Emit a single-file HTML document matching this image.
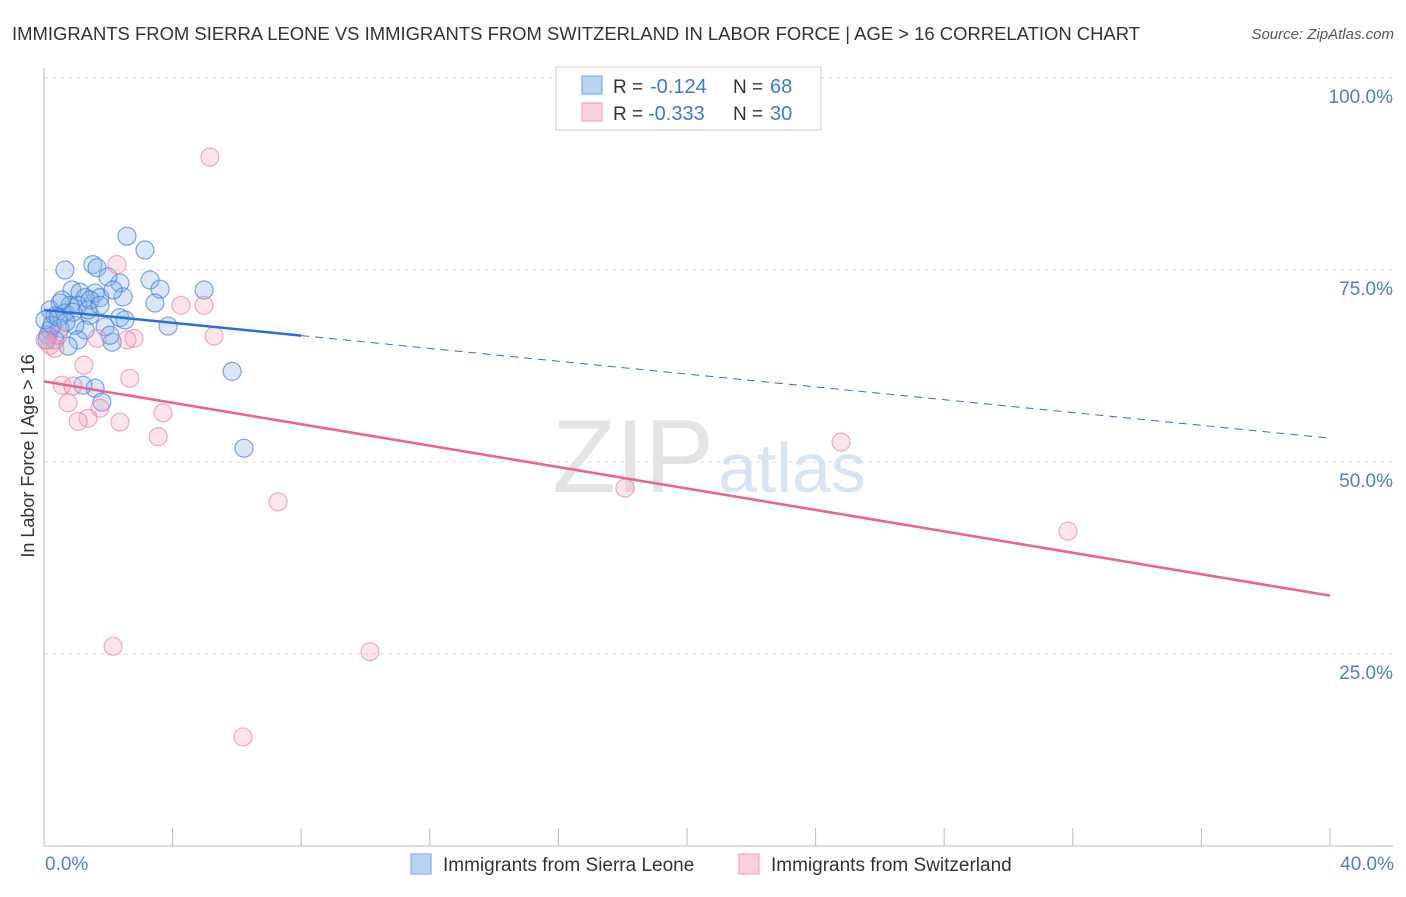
<!DOCTYPE html>
<html><head><meta charset="utf-8"><style>
body{margin:0;background:#fff;font-family:"Liberation Sans",sans-serif;}
svg text{font-family:"Liberation Sans",sans-serif;}
</style></head><body>
<svg width="1406" height="892" xmlns="http://www.w3.org/2000/svg">
<text x="12" y="40" font-size="18" fill="#333" textLength="1128" lengthAdjust="spacingAndGlyphs">IMMIGRANTS FROM SIERRA LEONE VS IMMIGRANTS FROM SWITZERLAND IN LABOR FORCE | AGE &gt; 16 CORRELATION CHART</text>
<text x="1394" y="39" font-size="15" fill="#555" font-style="italic" text-anchor="end">Source: ZipAtlas.com</text>
<text x="714" y="492" font-size="104" fill="#e4e4e4" text-anchor="end" font-family="Liberation Serif">ZIP</text>
<text x="718" y="492" font-size="70" fill="#d8e4f2">atlas</text>
<g id="grid"></g>
<g id="axes"></g>
<g id="pts"></g>
<g id="lines"></g>
<text transform="translate(34,456) rotate(-90)" font-size="18" fill="#333" text-anchor="middle">In Labor Force | Age &gt; 16</text>
<text x="45" y="870" font-size="19" fill="#4a7fd4">0.0%</text>
<text x="1394" y="870" font-size="19" fill="#4a7fd4" text-anchor="end">40.0%</text>
<g>
<rect x="556" y="67" width="265" height="63" fill="#fff" stroke="#ccc"/>
<rect x="582" y="76" width="20" height="18" fill="#b9d3f5" stroke="#6fa0e0"/>
<rect x="582" y="103" width="20" height="18" fill="#fbd0dc" stroke="#ee9ab2"/>
<text x="613" y="93" font-size="19" fill="#333">R =</text>
<text x="650" y="93" font-size="20" fill="#3b78d8">-0.124</text>
<text x="733" y="93" font-size="19" fill="#333">N =</text>
<text x="770" y="93" font-size="20" fill="#3b78d8">68</text>
<text x="613" y="120" font-size="19" fill="#333">R =</text>
<text x="648" y="120" font-size="20" fill="#3b78d8">-0.333</text>
<text x="733" y="120" font-size="19" fill="#333">N =</text>
<text x="770" y="120" font-size="20" fill="#3b78d8">30</text>
</g>
<g>
<rect x="411" y="854" width="20" height="20" fill="#b9d3f5" stroke="#6fa0e0"/>
<text x="443" y="871" font-size="19" fill="#333">Immigrants from Sierra Leone</text>
<rect x="739" y="854" width="20" height="20" fill="#fbd0dc" stroke="#ee9ab2"/>
<text x="771" y="871" font-size="19" fill="#333">Immigrants from Switzerland</text>
</g>
</svg>
<script>
const yTicks=[25,50,75,100];
const yTickLabels=["25.0%","50.0%","75.0%","100.0%"];
const xTicks=[0,4,8,12,16,20,24,28,32,36,40];
const blueX=[2.58,3.14,0.65,1.52,1.65,2.36,1.99,3.30,3.61,4.98,3.45,2.46,0.87,1.12,1.59,1.28,0.50,0.81,0.19,0.34,0.65,1.43,1.74,2.15,2.36,2.52,3.86,1.90,1.28,0.96,0.50,0.19,0.12,0.34,1.06,2.12,0.75,5.85,1.59,1.21,1.80,6.22,0.56,1.06,1.43,0.03,0.09,0.25,0.90,1.37,1.74,2.05,0.44,0.68];
const blueY=[79.4,77.6,75.0,75.7,75.3,73.3,74.1,73.7,72.5,72.4,70.7,71.5,72.4,72.1,72.0,71.4,70.7,70.4,69.8,69.0,69.4,69.1,71.4,72.4,68.8,68.5,67.7,67.6,67.2,67.8,67.4,67.2,66.5,65.9,65.9,65.6,65.1,61.8,59.6,60.0,57.8,51.8,71.1,70.4,71.1,68.5,65.9,67.8,69.5,69.8,70.4,66.5,68.8,68.2];
const pinkX=[5.16,2.27,4.26,4.98,5.29,2.80,2.58,1.65,1.24,2.67,0.56,0.90,0.75,1.74,3.70,1.37,1.06,2.36,3.55,7.28,24.79,18.07,31.85,2.15,10.14,6.19,0.19,0.34,0.44,0.03];
const pinkY=[89.7,75.7,70.4,70.4,66.4,66.1,65.9,66.1,62.6,60.9,60.0,59.9,57.7,57.0,56.4,55.7,55.3,55.2,53.3,44.8,52.6,46.6,41.0,26.0,25.3,14.2,65.2,64.8,66.5,65.9];
const blueTrend=[69.8,53.1];
const pinkTrend=[60.5,32.6];
const blueSolidEnd=8;
const X=v=>44+v/40*1286, Y=v=>846-v/100*768;
const NS="http://www.w3.org/2000/svg";
function mk(p,t,a){const e=document.createElementNS(NS,t);for(const k in a)e.setAttribute(k,a[k]);document.getElementById(p).appendChild(e);return e;}
yTicks.forEach((t,i)=>{
 const l=mk('grid','line',{x1:44,x2:1393,y1:Y(t),y2:Y(t),stroke:'#ddd','stroke-dasharray':'4 4'});
 
 
 const tx=mk('grid','text',{x:1393,y:Y(t)+25,'font-size':19,fill:'#4a7fd4','text-anchor':'end'});
 tx.textContent=yTickLabels[i];
 
 
});
const ax=mk('axes','line',{x1:44,x2:44,y1:68,y2:846,stroke:'#bbb'});


const bx=mk('axes','line',{x1:44,x2:1393,y1:846,y2:846,stroke:'#bbb'});


xTicks.forEach(t=>{
 const l=mk('axes','line',{x1:X(t),x2:X(t),y1:828,y2:846,stroke:'#bbb'});
 
 
});
blueX.forEach((x,i)=>{
 const c=mk('pts','circle',{cx:X(x),cy:Y(blueY[i]),r:9,fill:'rgba(130,175,235,0.3)',stroke:'rgba(60,120,215,0.65)','stroke-width':1.2});
 
 
});
pinkX.forEach((x,i)=>{
 const c=mk('pts','circle',{cx:X(x),cy:Y(pinkY[i]),r:9,fill:'rgba(245,165,190,0.3)',stroke:'rgba(230,120,155,0.6)','stroke-width':1.2});
 
 
});
const bAt=x=>blueTrend[0]+(blueTrend[1]-blueTrend[0])*x/40;
const b1=mk('lines','line',{x1:X(0),y1:Y(blueTrend[0]),x2:X(blueSolidEnd),y2:Y(bAt(blueSolidEnd)),stroke:'#2a6fd8','stroke-width':2.5});


const b2=mk('lines','line',{x1:X(blueSolidEnd),y1:Y(bAt(blueSolidEnd)),x2:X(40),y2:Y(blueTrend[1]),stroke:'#2a6fd8','stroke-width':1,'stroke-dasharray':'8 6'});


const p1=mk('lines','line',{x1:X(0),y1:Y(pinkTrend[0]),x2:X(40),y2:Y(pinkTrend[1]),stroke:'#e8648e','stroke-width':2.5});


</script>
</body></html>
